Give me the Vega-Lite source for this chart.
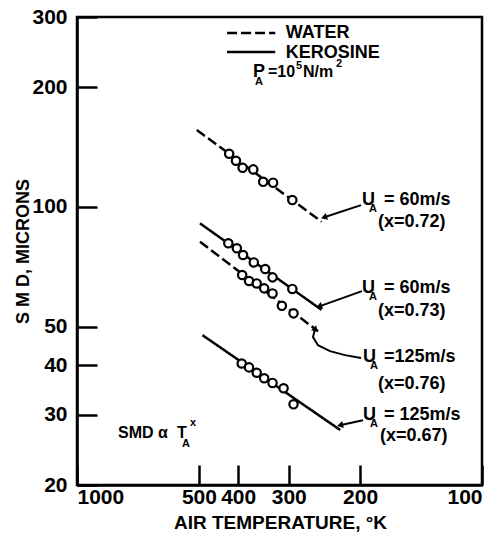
{
  "$schema": "https://vega.github.io/schema/vega-lite/v6.json",
  "width": 405,
  "height": 468,
  "autosize": {"type": "none"},
  "padding": {"left": 77, "top": 17, "right": 21, "bottom": 54},
  "background": "white",
  "config": {"view": {"stroke": "black", "strokeWidth": 2.5}, "font": "Liberation Sans"},
  "datasets": {
    "fits": [
      {"case": "W60", "fluid": "Water", "T": 506, "SMD": 156},
      {"case": "W60", "fluid": "Water", "T": 249, "SMD": 91.8},
      {"case": "K60", "fluid": "Kerosine", "T": 497, "SMD": 90.9},
      {"case": "K60", "fluid": "Kerosine", "T": 249, "SMD": 55.1},
      {"case": "W125", "fluid": "Water", "T": 497, "SMD": 81.7},
      {"case": "W125", "fluid": "Water", "T": 254, "SMD": 48.7},
      {"case": "K125", "fluid": "Kerosine", "T": 490, "SMD": 47.6},
      {"case": "K125", "fluid": "Kerosine", "T": 224, "SMD": 27.5}
    ],
    "obs": [
      {"case": "W60", "T": 421, "SMD": 136}, {"case": "W60", "T": 405, "SMD": 130.6}, {"case": "W60", "T": 390, "SMD": 125.4},
      {"case": "W60", "T": 367, "SMD": 124.2}, {"case": "W60", "T": 347, "SMD": 115.6}, {"case": "W60", "T": 328, "SMD": 115},
      {"case": "W60", "T": 294, "SMD": 104},
      {"case": "K60", "T": 423, "SMD": 81.0}, {"case": "K60", "T": 403, "SMD": 78.7}, {"case": "K60", "T": 389, "SMD": 75.7},
      {"case": "K60", "T": 366, "SMD": 72.5}, {"case": "K60", "T": 343, "SMD": 69.8}, {"case": "K60", "T": 329, "SMD": 66.5},
      {"case": "K60", "T": 294, "SMD": 62.2},
      {"case": "W125", "T": 391, "SMD": 67.4}, {"case": "W125", "T": 376, "SMD": 65.1}, {"case": "W125", "T": 360, "SMD": 64.2},
      {"case": "W125", "T": 345, "SMD": 62.4}, {"case": "W125", "T": 329, "SMD": 60.6}, {"case": "W125", "T": 312, "SMD": 56.4},
      {"case": "W125", "T": 292, "SMD": 54.0},
      {"case": "K125", "T": 392, "SMD": 40.4}, {"case": "K125", "T": 376, "SMD": 39.5}, {"case": "K125", "T": 360, "SMD": 38.3},
      {"case": "K125", "T": 345, "SMD": 37.1}, {"case": "K125", "T": 329, "SMD": 36.1}, {"case": "K125", "T": 309, "SMD": 35.0},
      {"case": "K125", "T": 292, "SMD": 31.9}
    ],
    "legendLines": [
      {"fluid": "Water", "T": 426, "SMD": 273.4}, {"fluid": "Water", "T": 324, "SMD": 273.4},
      {"fluid": "Kerosine", "T": 426, "SMD": 244.9}, {"fluid": "Kerosine", "T": 324, "SMD": 244.9}
    ],
    "bigText": [
      {"T": 305, "SMD": 273.4, "label": "WATER"},
      {"T": 305, "SMD": 243.4, "label": "KEROSINE"},
      {"T": 367.6, "SMD": 218.2, "label": "P"},
      {"T": 197.9, "SMD": 104.0, "label": "U"},
      {"T": 174.6, "SMD": 104.0, "label": "= 60m/s"},
      {"T": 180.6, "SMD": 91.6, "label": "(x=0.72)"},
      {"T": 197.9, "SMD": 62.5, "label": "U"},
      {"T": 174.6, "SMD": 62.5, "label": "= 60m/s"},
      {"T": 180.6, "SMD": 54.7, "label": "(x=0.73)"},
      {"T": 196.7, "SMD": 41.9, "label": "U"},
      {"T": 174.6, "SMD": 41.9, "label": "=125m/s"},
      {"T": 180.6, "SMD": 35.9, "label": "(x=0.76)"},
      {"T": 196.7, "SMD": 30.0, "label": "U"},
      {"T": 174.6, "SMD": 30.0, "label": "= 125m/s"},
      {"T": 178.6, "SMD": 26.6, "label": "(x=0.67)"}
    ],
    "midText": [
      {"T": 792, "SMD": 27.0, "label": "SMD α"},
      {"T": 566, "SMD": 27.0, "label": "T"},
      {"T": 337.6, "SMD": 218.2, "label": "=10"},
      {"T": 276.7, "SMD": 218.2, "label": "N/m"}
    ],
    "smallText": [
      {"T": 190.1, "SMD": 98.7, "label": "A"},
      {"T": 190.1, "SMD": 59.4, "label": "A"},
      {"T": 189.1, "SMD": 39.8, "label": "A"},
      {"T": 189.1, "SMD": 28.5, "label": "A"},
      {"T": 363.5, "SMD": 205.9, "label": "A"},
      {"T": 287.9, "SMD": 226.5, "label": "5"},
      {"T": 229.3, "SMD": 228.4, "label": "2"},
      {"T": 550.5, "SMD": 25.35, "label": "A"},
      {"T": 526, "SMD": 28.6, "label": "x"}
    ],
    "arrows": [
      {"arrow": 1, "seq": 1, "T": 198.9, "SMD": 101.0}, {"arrow": 1, "seq": 2, "T": 244.2, "SMD": 94.3},
      {"arrow": 2, "seq": 1, "T": 197.9, "SMD": 61.4}, {"arrow": 2, "seq": 2, "T": 251.2, "SMD": 56.3},
      {"arrow": 3, "seq": 1, "T": 198.9, "SMD": 41.7}, {"arrow": 3, "seq": 2, "T": 217.9, "SMD": 42.4},
      {"arrow": 3, "seq": 3, "T": 237.3, "SMD": 43.4}, {"arrow": 3, "seq": 4, "T": 254.1, "SMD": 44.9},
      {"arrow": 3, "seq": 5, "T": 261.4, "SMD": 47.1}, {"arrow": 3, "seq": 6, "T": 258.4, "SMD": 49.3},
      {"arrow": 4, "seq": 1, "T": 196.7, "SMD": 29.1}, {"arrow": 4, "seq": 2, "T": 222.9, "SMD": 28.3}
    ],
    "heads": [
      {"arrow": 1, "T": 244.2, "SMD": 94.3},
      {"arrow": 2, "T": 251.2, "SMD": 56.3},
      {"arrow": 3, "T": 258.4, "SMD": 49.3},
      {"arrow": 4, "T": 222.9, "SMD": 28.3}
    ]
  },
  "encoding": {
    "x": {
      "field": "T", "type": "quantitative",
      "scale": {"type": "log", "domain": [100, 1000], "reverse": true, "nice": false},
      "axis": {
        "title": "AIR TEMPERATURE, °K", "values": [1000, 500, 400, 300, 200, 100], "format": "d",
        "tickSize": -20, "tickWidth": 2.5, "tickColor": "black", "domainColor": "black", "domainWidth": 2.5,
        "labelFont": "Liberation Sans", "labelFontWeight": "bold", "labelFontSize": 21, "labelColor": "black",
        "labelPadding": 21, "labelOverlap": false, "grid": false,
        "titleFont": "Liberation Sans", "titleFontSize": 19, "titleFontWeight": "bold", "titleColor": "black",
        "titleX": 203, "titleY": 37, "titleBaseline": "middle", "titleAlign": "center"
      }
    },
    "y": {
      "field": "SMD", "type": "quantitative",
      "scale": {"type": "log", "domain": [20, 300], "nice": false},
      "axis": {
        "title": "S M D, MICRONS", "values": [20, 30, 40, 50, 100, 200, 300], "format": "d",
        "tickSize": -20, "tickWidth": 2.5, "tickColor": "black", "domainColor": "black", "domainWidth": 2.5,
        "labelFont": "Liberation Sans", "labelFontWeight": "bold", "labelFontSize": 21, "labelColor": "black",
        "labelPadding": 30, "labelOverlap": false, "grid": false,
        "titleFont": "Liberation Sans", "titleFontSize": 18, "titleFontWeight": "bold", "titleColor": "black",
        "titleX": -54, "titleY": 234, "titleBaseline": "middle", "titleAlign": "center", "titleAngle": 270
      }
    }
  },
  "layer": [
    {
      "data": {"name": "fits"},
      "mark": {"type": "line", "color": "black", "strokeWidth": 2.5},
      "encoding": {
        "detail": {"field": "case"},
        "strokeDash": {"field": "fluid", "type": "nominal", "scale": {"domain": ["Water", "Kerosine"], "range": [[10, 4], [1, 0]]}, "legend": null}
      }
    },
    {
      "data": {"name": "legendLines"},
      "mark": {"type": "line", "color": "black", "strokeWidth": 2.5},
      "encoding": {
        "detail": {"field": "fluid"},
        "strokeDash": {"field": "fluid", "type": "nominal", "legend": null}
      }
    },
    {
      "data": {"name": "obs"},
      "mark": {"type": "point", "shape": "circle", "size": 70, "fill": "white", "stroke": "black", "strokeWidth": 2.2, "opacity": 1, "filled": true},
      "encoding": {"detail": {"field": "case"}}
    },
    {
      "data": {"name": "arrows"},
      "mark": {"type": "line", "color": "black", "strokeWidth": 2},
      "encoding": {"detail": {"field": "arrow"}, "order": {"field": "seq", "type": "quantitative"}}
    },
    {
      "data": {"name": "heads"},
      "transform": [{"filter": "datum.arrow == 1"}],
      "mark": {"type": "point", "shape": "triangle", "size": 50, "filled": true, "color": "black", "opacity": 1, "angle": 252}
    },
    {
      "data": {"name": "heads"},
      "transform": [{"filter": "datum.arrow == 2"}],
      "mark": {"type": "point", "shape": "triangle", "size": 50, "filled": true, "color": "black", "opacity": 1, "angle": 250}
    },
    {
      "data": {"name": "heads"},
      "transform": [{"filter": "datum.arrow == 3"}],
      "mark": {"type": "point", "shape": "triangle", "size": 50, "filled": true, "color": "black", "opacity": 1, "angle": 15}
    },
    {
      "data": {"name": "heads"},
      "transform": [{"filter": "datum.arrow == 4"}],
      "mark": {"type": "point", "shape": "triangle", "size": 50, "filled": true, "color": "black", "opacity": 1, "angle": 257}
    },
    {
      "data": {"name": "bigText"},
      "mark": {"type": "text", "align": "left", "baseline": "middle", "fontSize": 18, "fontWeight": "bold", "font": "Liberation Sans", "color": "black"},
      "encoding": {"text": {"field": "label"}}
    },
    {
      "data": {"name": "midText"},
      "mark": {"type": "text", "align": "left", "baseline": "middle", "fontSize": 16, "fontWeight": "bold", "font": "Liberation Sans", "color": "black"},
      "encoding": {"text": {"field": "label"}}
    },
    {
      "data": {"name": "smallText"},
      "mark": {"type": "text", "align": "left", "baseline": "middle", "fontSize": 11, "fontWeight": "bold", "font": "Liberation Sans", "color": "black"},
      "encoding": {"text": {"field": "label"}}
    }
  ]
}
